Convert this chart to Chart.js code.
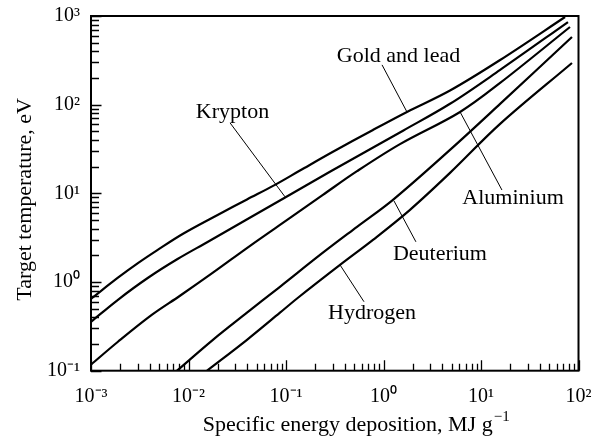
<!DOCTYPE html>
<html>
<head>
<meta charset="utf-8">
<script src="https://cdn.jsdelivr.net/npm/chart.js@4/dist/chart.umd.min.js"></script>
<style>
  html, body { margin: 0; padding: 0; background: #fff; }
  #wrap { width: 600px; height: 436px; }
</style>
</head>
<body>
<div id="wrap"><canvas id="chart" width="600" height="436"></canvas></div>
<script>
// Target temperature (eV) versus specific energy deposition (MJ/g), one curve per target material
const goldX = [0.001, 0.00189, 0.00303, 0.00475, 0.00879, 0.0201, 0.0398, 0.0771, 0.139, 0.303, 0.780, 1.74, 4.81, 15.7, 72.8];
const goldY = [0.647, 1.119, 1.633, 2.275, 3.50, 5.74, 8.53, 12.47, 18.07, 29.4, 51.9, 82.8, 144.5, 319, 975];

const kryptonX = [0.001, 0.00189, 0.00385, 0.00780, 0.01585, 0.0481, 0.0931, 0.282, 1.585, 4.81, 15.7, 78.0];
const kryptonY = [0.356, 0.631, 1.117, 1.828, 2.844, 5.73, 8.69, 17.5, 50.9, 102.3, 246.6, 855];

const aluminiumX = [0.001, 0.00189, 0.00423, 0.00818, 0.0178, 0.0428, 0.110, 0.239, 0.535, 1.476, 6.10, 15.7, 81.8];
const aluminiumY = [0.117, 0.212, 0.428, 0.700, 1.274, 2.559, 5.28, 9.61, 17.78, 35.9, 82.8, 175.8, 751.6];

const deuteriumX = [0.00762, 0.0178, 0.0398, 0.0867, 0.239, 0.535, 1.25, 4.81, 15.7, 85.7];
const deuteriumY = [0.1, 0.223, 0.451, 0.884, 2.14, 4.19, 8.45, 30.9, 102, 580];

const hydrogenX = [0.0155, 0.0398, 0.0867, 0.1327, 0.358, 0.780, 1.87, 4.81, 15.7, 85.7];
const hydrogenY = [0.1, 0.223, 0.451, 0.665, 1.56, 2.99, 6.52, 17.0, 60.7, 295];

// Curve names, in the same order as the series above
const seriesNames = ['Gold and lead', 'Krypton', 'Aluminium', 'Deuterium', 'Hydrogen'];

// Decade tick labels
const xDecades = [0.001, 0.01, 0.1, 1, 10, 100];
const xTickLabels = ['10\u207B\u00B3', '10\u207B\u00B2', '10\u207B\u00B9', '10\u2070', '10\u00B9', '10\u00B2'];
const yDecades = [0.1, 1, 10, 100, 1000];
const yTickLabels = ['10\u207B\u00B9', '10\u2070', '10\u00B9', '10\u00B2', '10\u00B3'];

const xTitle = 'Specific energy deposition, MJ g';
const xTitleExp = '\u22121';
const yTitle = 'Target temperature, eV';

const FONT = "'Liberation Serif', 'Times New Roman', serif";

const toPoints = (xs, ys) => xs.map((x, i) => ({ x, y: ys[i] }));
const seriesData = [
  toPoints(goldX, goldY),
  toPoints(kryptonX, kryptonY),
  toPoints(aluminiumX, aluminiumY),
  toPoints(deuteriumX, deuteriumY),
  toPoints(hydrogenX, hydrogenY)
];

// Callout placement for each curve name (data coordinates): text baseline point and leader line
const callouts = [
  { text: seriesNames[0], at: [1.426, 305], from: [0.966, 281], to: [1.74, 82.8] },
  { text: seriesNames[1], at: [0.02825, 71.0], from: [0.0267, 62.3], to: [0.0977, 9.14] },
  { text: seriesNames[2], at: [21.3, 7.62], from: [6.10, 82.8], to: [16.4, 10.9] },
  { text: seriesNames[3], at: [3.79, 1.78], from: [1.28, 8.23], to: [2.15, 2.84] },
  { text: seriesNames[4], at: [0.762, 0.385], from: [0.358, 1.56], to: [0.631, 0.599] }
];

// Minor + major tick values between the first and last decade
function decadeTicks(decades) {
  const out = [];
  for (let i = 0; i < decades.length - 1; i++) {
    for (let m = 1; m <= 9; m++) out.push(+(m * decades[i]).toPrecision(6));
  }
  out.push(decades[decades.length - 1]);
  return out;
}
const isDecade = v => Math.abs(Math.log10(v) - Math.round(Math.log10(v))) < 1e-9;
function labelFor(v, decades, labels) {
  for (let i = 0; i < decades.length; i++) {
    if (Math.abs(v / decades[i] - 1) < 1e-9) return labels[i];
  }
  return '';
}
// Fixed axis box sizes, no extra room reserved for overhanging labels
function fixBox(size) {
  return s => {
    if (s.isHorizontal()) s.height = size; else s.width = size;
    s.paddingTop = 0; s.paddingBottom = 0; s.paddingLeft = 0; s.paddingRight = 0;
  };
}

// Inward tick marks on the left and bottom axes, plus the plot frame
const frameAndTicks = {
  id: 'frameAndTicks',
  afterDatasetsDraw(chart) {
    const { ctx, chartArea: a, scales } = chart;
    ctx.save();
    ctx.strokeStyle = '#000';
    ctx.lineWidth = 1.3;
    ctx.beginPath();
    scales.x.ticks.forEach(t => {
      const px = Math.round(scales.x.getPixelForValue(t.value)) + 0.5;
      const len = t.major ? 10.5 : 7;
      ctx.moveTo(px, a.bottom);
      ctx.lineTo(px, a.bottom - len);
    });
    scales.y.ticks.forEach(t => {
      const py = Math.round(scales.y.getPixelForValue(t.value)) + 0.5;
      const len = t.major ? 10.5 : 8;
      ctx.moveTo(a.left, py);
      ctx.lineTo(a.left + len, py);
    });
    ctx.stroke();
    ctx.lineWidth = 2;
    ctx.strokeRect(a.left, a.top, a.right - a.left, a.bottom - a.top);
    ctx.restore();
  }
};

// Curve names with thin leader lines
const calloutLabels = {
  id: 'calloutLabels',
  afterDatasetsDraw(chart) {
    const { ctx, scales: { x, y } } = chart;
    ctx.save();
    ctx.strokeStyle = '#000';
    ctx.fillStyle = '#000';
    ctx.lineWidth = 1;
    callouts.forEach(c => {
      ctx.beginPath();
      ctx.moveTo(x.getPixelForValue(c.from[0]), y.getPixelForValue(c.from[1]));
      ctx.lineTo(x.getPixelForValue(c.to[0]), y.getPixelForValue(c.to[1]));
      ctx.stroke();
      ctx.font = '22px ' + FONT;
      ctx.textAlign = 'center';
      ctx.textBaseline = 'alphabetic';
      ctx.fillText(c.text, x.getPixelForValue(c.at[0]), y.getPixelForValue(c.at[1]));
    });
    ctx.restore();
  }
};

// Axis titles (the x title carries a superscript exponent)
const axisTitles = {
  id: 'axisTitles',
  afterDraw(chart) {
    const { ctx, chartArea: a } = chart;
    ctx.save();
    ctx.fillStyle = '#000';
    ctx.textBaseline = 'alphabetic';
    // x title
    ctx.font = '22px ' + FONT;
    ctx.textAlign = 'left';
    const base = 431;
    const w = ctx.measureText(xTitle).width;
    ctx.font = '15px ' + FONT;
    const we = ctx.measureText(xTitleExp).width;
    const startX = (a.left + a.right) / 2 + 21 - (w + we) / 2;
    ctx.font = '22px ' + FONT;
    ctx.fillText(xTitle, startX, base);
    ctx.font = '15px ' + FONT;
    ctx.fillText(xTitleExp, startX + w + 1, base - 10);
    // y title
    ctx.translate(31, (a.top + a.bottom) / 2 + 6);
    ctx.rotate(-Math.PI / 2);
    ctx.font = '22px ' + FONT;
    ctx.textAlign = 'center';
    ctx.fillText(yTitle, 0, 0);
    ctx.restore();
  }
};

const xTickValues = decadeTicks(xDecades);
const yTickValues = decadeTicks(yDecades);

new Chart(document.getElementById('chart'), {
  type: 'scatter',
  data: {
    datasets: seriesData.map((pts, i) => ({
      label: seriesNames[i],
      data: pts,
      showLine: true,
      borderColor: '#000',
      backgroundColor: '#000',
      borderWidth: 2.2,
      pointRadius: 0,
      pointHoverRadius: 0,
      tension: 0.35
    }))
  },
  options: {
    responsive: false,
    animation: false,
    devicePixelRatio: 1,
    layout: { autoPadding: false, padding: { top: 16, right: 21.5, left: 0, bottom: 0 } },
    plugins: { legend: { display: false }, tooltip: { enabled: false } },
    scales: {
      x: {
        type: 'logarithmic',
        position: 'bottom',
        min: 0.001,
        max: 100,
        afterBuildTicks: s => { s.ticks = xTickValues.map(v => ({ value: v, major: isDecade(v) })); },
        afterFit: fixBox(65.3),
        grid: { display: false, drawTicks: false },
        border: { display: false },
        ticks: {
          autoSkip: false,
          maxRotation: 0,
          padding: 14,
          color: '#000',
          font: { family: FONT, size: 20 },
          callback: v => labelFor(v, xDecades, xTickLabels)
        }
      },
      y: {
        type: 'logarithmic',
        position: 'left',
        min: 0.1,
        max: 1000,
        afterBuildTicks: s => { s.ticks = yTickValues.map(v => ({ value: v, major: isDecade(v) })); },
        afterFit: fixBox(91),
        grid: { display: false, drawTicks: false },
        border: { display: false },
        ticks: {
          autoSkip: false,
          padding: 11,
          color: '#000',
          font: { family: FONT, size: 20 },
          callback: v => labelFor(v, yDecades, yTickLabels)
        }
      }
    }
  },
  plugins: [frameAndTicks, calloutLabels, axisTitles]
});
</script>
</body>
</html>
